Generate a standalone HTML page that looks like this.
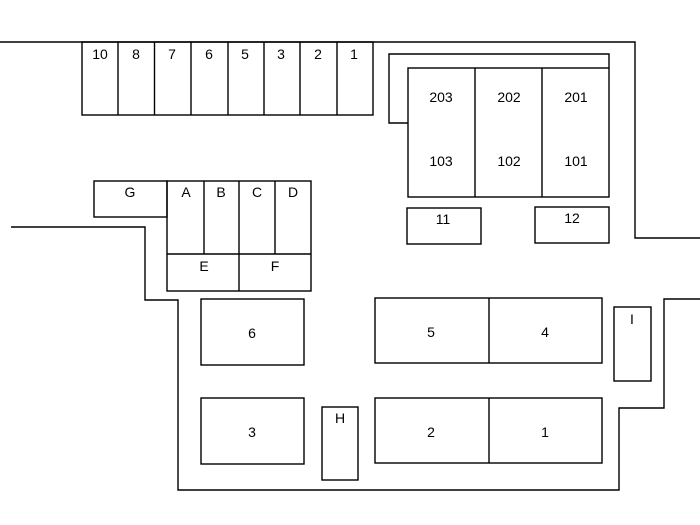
<!DOCTYPE html>
<html><head><meta charset="utf-8"><style>
html,body{margin:0;padding:0;background:#fff;}
svg{display:block}
text{font-family:"Liberation Sans",sans-serif;font-size:14px;fill:#000;text-anchor:middle}
</style></head><body>
<svg width="700" height="525" viewBox="0 0 700 525" xmlns="http://www.w3.org/2000/svg">
<g fill="none" stroke="#000" stroke-width="1.4">
<polyline points="0,42 635,42 635,238 700,238"/>
<rect x="82" y="42" width="291" height="73"/>
<line x1="118" y1="42" x2="118" y2="115"/><line x1="154.5" y1="42" x2="154.5" y2="115"/>
<line x1="191" y1="42" x2="191" y2="115"/><line x1="228" y1="42" x2="228" y2="115"/>
<line x1="264" y1="42" x2="264" y2="115"/><line x1="300" y1="42" x2="300" y2="115"/>
<line x1="337" y1="42" x2="337" y2="115"/>
<polyline points="408,123 389,123 389,54 609,54 609,68"/>
<rect x="408" y="68" width="201" height="129"/>
<line x1="475" y1="68" x2="475" y2="197"/><line x1="542" y1="68" x2="542" y2="197"/>
<rect x="407" y="208" width="74" height="36"/>
<rect x="535" y="207" width="74" height="36"/>
<rect x="94" y="181" width="73" height="36"/>
<rect x="167" y="181" width="144" height="110"/>
<line x1="204" y1="181" x2="204" y2="254"/><line x1="239" y1="181" x2="239" y2="291"/>
<line x1="275" y1="181" x2="275" y2="254"/><line x1="167" y1="254" x2="311" y2="254"/>
<polyline points="11,227 145,227 145,300 178,300 178,490 619,490 619,408 664,408 664,299 700,299"/>
<rect x="201" y="299" width="103" height="66"/>
<rect x="201" y="398" width="103" height="66"/>
<rect x="322" y="407" width="36" height="73"/>
<rect x="375" y="298" width="227" height="65"/><line x1="489" y1="298" x2="489" y2="363"/>
<rect x="375" y="398" width="227" height="65"/><line x1="489" y1="398" x2="489" y2="463"/>
<rect x="614" y="307" width="37" height="74"/>
</g>
<g>
<text x="100" y="59">10</text><text x="136" y="59">8</text><text x="172" y="59">7</text>
<text x="209" y="59">6</text><text x="245" y="59">5</text><text x="281" y="59">3</text>
<text x="318" y="59">2</text><text x="354" y="59">1</text>
<text x="441" y="102">203</text><text x="509" y="102">202</text><text x="576" y="102">201</text>
<text x="441" y="166">103</text><text x="509" y="166">102</text><text x="576" y="166">101</text>
<text x="443" y="224">11</text><text x="572" y="223">12</text>
<text x="130" y="197">G</text><text x="186" y="197">A</text><text x="221" y="197">B</text>
<text x="257" y="197">C</text><text x="293" y="197">D</text>
<text x="204" y="271">E</text><text x="275" y="271">F</text>
<text x="252" y="338">6</text><text x="252" y="437">3</text>
<text x="340" y="423">H</text><text x="632" y="324">I</text>
<text x="431" y="337">5</text><text x="545" y="337">4</text>
<text x="431" y="437">2</text><text x="545" y="437">1</text>
</g>
</svg>
</body></html>
